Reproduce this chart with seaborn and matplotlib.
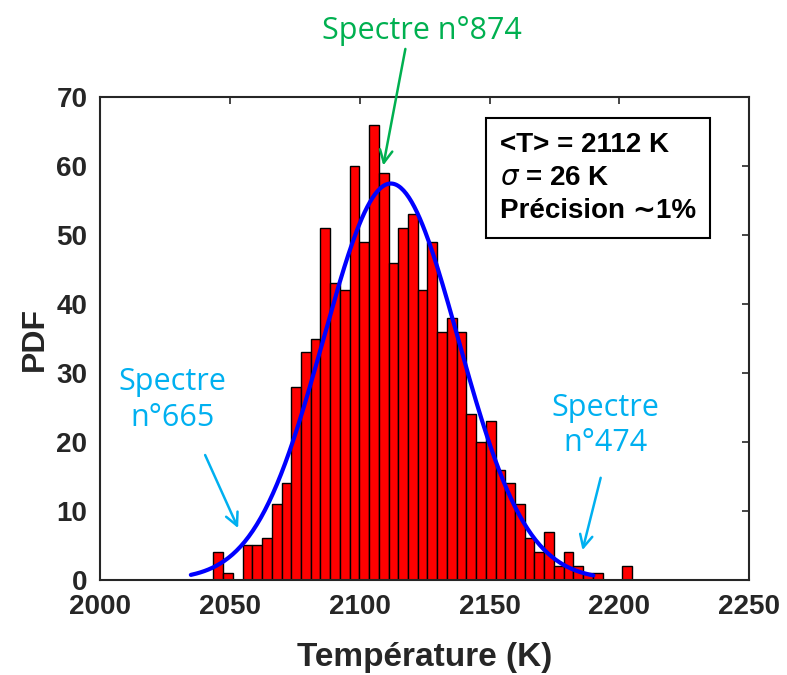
import matplotlib
matplotlib.use("Agg")
import matplotlib.pyplot as plt
import seaborn as sns
import numpy as np
import pandas as pd

# ======= DATA ======= #
bin_start = 2043.7
bin_width = 3.746
counts = [4, 1, 0, 5, 5, 6, 11, 14, 28, 33, 35, 51, 43, 42, 60, 49, 66, 59,
          46, 51, 53, 42, 49, 36, 38, 36, 24, 20, 23, 16, 14, 11, 6, 4, 7, 2,
          4, 2, 1, 1, 0, 0, 2]
mean_T = 2112
sigma_T = 26
fit_range = [2035, 2190]
x_ticks = [2000, 2050, 2100, 2150, 2200, 2250]
y_ticks = [0, 10, 20, 30, 40, 50, 60, 70]

edges = bin_start + bin_width * np.arange(len(counts) + 1)
centers = (edges[:-1] + edges[1:]) / 2
df = pd.DataFrame({"T": centers, "n": counts})

# gaussian fit from <T> and sigma, scaled to counts
xx = np.linspace(fit_range[0], fit_range[1], 300)
yy = sum(counts) * bin_width * np.exp(-0.5 * ((xx - mean_T) / sigma_T) ** 2) / (sigma_T * np.sqrt(2 * np.pi))

# ======= FIGURE ======= #
sns.set_style("white")
plt.rcParams['font.family'] = ['Liberation Sans', 'DejaVu Sans']

fig = plt.figure(figsize=(7.87, 6.75), dpi=100)
ax = fig.add_axes([0.127, 0.141, 0.825, 0.715])

sns.histplot(
    data=df,
    x="T",
    weights="n",
    bins=list(edges),
    color="red",
    edgecolor="black",
    linewidth=1,
    alpha=1,
    ax=ax
)

sns.lineplot(x=xx, y=yy, color="blue", linewidth=3, ax=ax)

ax.set_xlim(2000, 2250)
ax.set_ylim(0, 70)
ax.set_xticks(x_ticks)
ax.set_yticks(y_ticks)
ax.tick_params(direction="in", top=True, right=True, length=5, width=1.2,
               labelsize=20, colors="#262626")
ax.tick_params(axis="x", pad=10)
ax.tick_params(axis="y", pad=9)
for lab in ax.get_xticklabels() + ax.get_yticklabels():
    lab.set_fontweight("bold")
for sp in ax.spines.values():
    sp.set_linewidth(1.5)
    sp.set_color("#262626")

ax.set_xlabel("Température (K)", fontsize=24, fontweight="bold", color="#262626", labelpad=16)
ax.set_ylabel("PDF", fontsize=23, fontweight="bold", color="#262626", labelpad=5)

# stats box
ax.text(
    2154, 64.9,
    "<T> = 2112 K\n$\\sigma$ = 26 K\nPrécision \u223c1%",
    fontsize=20, fontweight="bold", va="top", ha="left", linespacing=1.35,
    color="black",
    bbox=dict(boxstyle="square,pad=0.5", facecolor="white", edgecolor="black", linewidth=1.5)
)

# annotations
green = "#00B050"
cyan = "#00B0F0"
ann_font = ['Open Sans', 'DejaVu Sans']
arrow = dict(arrowstyle="->,head_length=0.9,head_width=0.45", lw=1.8,
             shrinkA=0, shrinkB=0)

ax.text(2124.1, 79.6, "Spectre n°874", ha="center", va="center",
        fontsize=22, color=green, family=ann_font, clip_on=False)
ax.annotate("", xy=(2109.1, 60.1), xytext=(2117.6, 77.0),
            annotation_clip=False, arrowprops=dict(arrow, color=green))

ax.text(2027.8, 26.1, "Spectre\nn°665", ha="center", va="center",
        fontsize=22, color=cyan, family=ann_font, linespacing=1.25)
ax.annotate("", xy=(2053.2, 7.5), xytext=(2040.5, 18.1),
            arrowprops=dict(arrow, color=cyan))

ax.text(2194.7, 22.4, "Spectre\nn°474", ha="center", va="center",
        fontsize=22, color=cyan, family=ann_font, linespacing=1.25)
ax.annotate("", xy=(2185.8, 4.3), xytext=(2192.8, 14.8),
            arrowprops=dict(arrow, color=cyan))

fig.savefig("out.png", dpi=100)
